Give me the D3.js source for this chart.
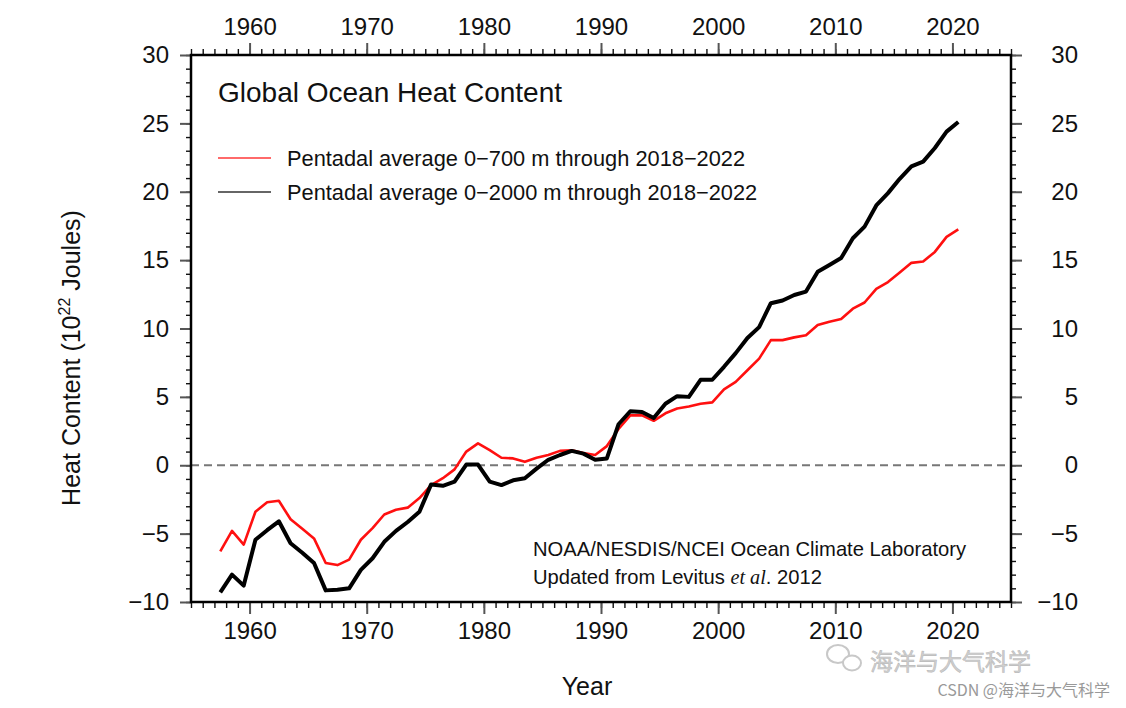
<!DOCTYPE html>
<html>
<head>
<meta charset="utf-8">
<script src="https://cdn.jsdelivr.net/npm/d3@7"></script>
<style>
  html, body { margin: 0; padding: 0; background: #fff; }
  svg { display: block; font-family: "Liberation Sans", Arial, Helvetica, sans-serif; }
</style>
</head>
<body>
<svg id="chart" width="1126" height="708"></svg>
<script>
// ---- data (pentadal averages, centred on mid-year) ----
const years = d3.range(1957.5, 2021, 1); // 1957.5 ... 2020.5
const ohc700 = [
  -6.3, -4.8, -5.8, -3.4, -2.7, -2.6, -3.95, -4.65, -5.35, -7.15,
  -7.3, -6.9, -5.45, -4.6, -3.6, -3.25, -3.1, -2.4, -1.45, -0.95,
  -0.3, 1.0, 1.6, 1.1, 0.55, 0.5, 0.25, 0.55, 0.75, 1.05,
  1.1, 0.9, 0.75, 1.4, 2.65, 3.65, 3.65, 3.25, 3.8, 4.15,
  4.3, 4.5, 4.6, 5.55, 6.1, 6.95, 7.8, 9.15, 9.15, 9.35,
  9.5, 10.25, 10.5, 10.7, 11.45, 11.9, 12.9, 13.4, 14.1, 14.8,
  14.9, 15.6, 16.7, 17.25
];
const ohc2000 = [
  -9.3, -8.0, -8.8, -5.45, -4.75, -4.1, -5.7, -6.4, -7.15, -9.15,
  -9.1, -9.0, -7.65, -6.8, -5.6, -4.8, -4.15, -3.4, -1.4, -1.5,
  -1.2, 0.05, 0.05, -1.2, -1.45, -1.1, -0.95, -0.25, 0.4, 0.75,
  1.05, 0.85, 0.4, 0.5, 3.0, 3.95, 3.9, 3.45, 4.5, 5.05,
  5.0, 6.25, 6.25, 7.2, 8.2, 9.3, 10.1, 11.85, 12.05, 12.45,
  12.7, 14.15, 14.65, 15.15, 16.6, 17.45, 19.0, 19.9, 20.95, 21.85,
  22.2, 23.2, 24.4, 25.1
];
const xMajorTicks = [1960, 1970, 1980, 1990, 2000, 2010, 2020];
const xMinorTicks = d3.range(1955, 2026, 1);
const yMajorTicks = [-10, -5, 0, 5, 10, 15, 20, 25, 30];
const yMinorTicks = d3.range(-10, 31, 1);
const seriesNames = [
  "Pentadal average 0\u2212700 m through 2018\u22122022",
  "Pentadal average 0\u22122000 m through 2018\u22122022"
];

// ---- layout ----
const svg = d3.select("#chart");
const L = 191, R = 1011, T = 55, B = 602;
const x = d3.scaleLinear().domain([1955, 2025]).range([L, R]);
const y = d3.scaleLinear().domain([-10, 30]).range([B, T]);
const fmt = d3.format("d");

function styleAxis(g, major) {
  g.select(".domain").remove();
  g.selectAll(".tick line").attr("stroke", major ? "#555" : "#111").attr("stroke-width", major ? 2 : 1.4);
  g.selectAll(".tick text").attr("fill", "#111").style("font-size", "24px")
    .style("font-family", "'Liberation Sans', Arial, sans-serif");
}

// minor ticks
svg.append("g").attr("transform", `translate(0,${B})`)
  .call(d3.axisBottom(x).tickValues(xMinorTicks).tickSize(6).tickFormat(""))
  .call(g => styleAxis(g, false));
svg.append("g").attr("transform", `translate(0,${T})`)
  .call(d3.axisTop(x).tickValues(xMinorTicks).tickSize(6).tickFormat(""))
  .call(g => styleAxis(g, false));
svg.append("g").attr("transform", `translate(${L},0)`)
  .call(d3.axisLeft(y).tickValues(yMinorTicks).tickSize(5).tickFormat(""))
  .call(g => styleAxis(g, false));
svg.append("g").attr("transform", `translate(${R},0)`)
  .call(d3.axisRight(y).tickValues(yMinorTicks).tickSize(5).tickFormat(""))
  .call(g => styleAxis(g, false));

// major ticks + labels
svg.append("g").attr("transform", `translate(0,${B})`)
  .call(d3.axisBottom(x).tickValues(xMajorTicks).tickSize(12).tickPadding(8).tickFormat(fmt))
  .call(g => styleAxis(g, true));
svg.append("g").attr("transform", `translate(0,${T})`)
  .call(d3.axisTop(x).tickValues(xMajorTicks).tickSize(12).tickPadding(8).tickFormat(fmt))
  .call(g => styleAxis(g, true));
svg.append("g").attr("transform", `translate(${L},0)`)
  .call(d3.axisLeft(y).tickValues(yMajorTicks).tickSize(11).tickPadding(11).tickFormat(fmt))
  .call(g => styleAxis(g, true));
const rightAx = svg.append("g").attr("transform", `translate(${R},0)`)
  .call(d3.axisRight(y).tickValues(yMajorTicks).tickSize(11).tickPadding(11).tickFormat(fmt))
  .call(g => styleAxis(g, true));
rightAx.selectAll(".tick text").attr("text-anchor", "end").attr("x", 67);

// zero line
svg.append("line")
  .attr("x1", L).attr("x2", R).attr("y1", y(0)).attr("y2", y(0))
  .attr("stroke", "#777").attr("stroke-width", 2).attr("stroke-dasharray", "8,5");

// series lines
const line = d3.line().x((d, i) => x(years[i])).y(d => y(d));
svg.append("path").datum(ohc700).attr("d", line)
  .attr("fill", "none").attr("stroke", "#ff1010").attr("stroke-width", 2.6).attr("stroke-linejoin", "round");
svg.append("path").datum(ohc2000).attr("d", line)
  .attr("fill", "none").attr("stroke", "#000").attr("stroke-width", 4).attr("stroke-linejoin", "round");

// frame
svg.append("rect").attr("x", L).attr("y", T).attr("width", R - L).attr("height", B - T)
  .attr("fill", "none").attr("stroke", "#000").attr("stroke-width", 2.5);

// title
svg.append("text").attr("x", 218).attr("y", 102).text("Global Ocean Heat Content")
  .style("font-size", "28px").attr("fill", "#111");

// legend
const legColors = ["#ff6a6a", "#666"];
seriesNames.forEach((name, i) => {
  const cy = 158 + i * 34;
  svg.append("line").attr("x1", 218).attr("x2", 271).attr("y1", cy).attr("y2", cy)
    .attr("stroke", legColors[i]).attr("stroke-width", 2);
  svg.append("text").attr("x", 287).attr("y", cy + 8).text(name)
    .style("font-size", "21.8px").attr("fill", "#111");
});

// credit
svg.append("text").attr("x", 533).attr("y", 556)
  .text("NOAA/NESDIS/NCEI Ocean Climate Laboratory").style("font-size", "20.2px").attr("fill", "#111");
const cr = svg.append("text").attr("x", 533).attr("y", 584).style("font-size", "20.2px").attr("fill", "#111");
cr.append("tspan").text("Updated from Levitus ");
cr.append("tspan").text("et al").style("font-family", "'Liberation Serif', 'Times New Roman', serif").style("font-style", "italic");
cr.append("tspan").text(". 2012");

// axis titles
svg.append("text").attr("x", 587).attr("y", 695).attr("text-anchor", "middle")
  .text("Year").style("font-size", "25px").attr("fill", "#111");
const yt = svg.append("text").attr("transform", "translate(80,358) rotate(-90)")
  .attr("text-anchor", "middle").style("font-size", "25px").attr("fill", "#111");
yt.append("tspan").text("Heat Content (10");
yt.append("tspan").text("22").style("font-size", "16px").attr("dy", -10);
yt.append("tspan").text(" Joules)").attr("dy", 10);

// watermarks
svg.append("ellipse").attr("cx", 838).attr("cy", 654).attr("rx", 11).attr("ry", 9).attr("fill", "none").attr("stroke", "#c8c8c8").attr("stroke-width", 2);
svg.append("ellipse").attr("cx", 852).attr("cy", 663).attr("rx", 9).attr("ry", 7.5).attr("fill", "#fff").attr("stroke", "#c8c8c8").attr("stroke-width", 2);
svg.append("text").attr("x", 870).attr("y", 670).text("海洋与大气科学")
  .style("font-family", "'Noto Sans CJK SC', sans-serif").style("font-size", "23px")
  .attr("fill", "#d0d0d0").attr("stroke", "#bbb").attr("stroke-width", 0.6);
svg.append("text").attr("x", 1110).attr("y", 696).attr("text-anchor", "end").text("CSDN @海洋与大气科学")
  .style("font-family", "'Noto Sans CJK SC', sans-serif").style("font-size", "16px").attr("fill", "#999");
</script>
</body>
</html>
